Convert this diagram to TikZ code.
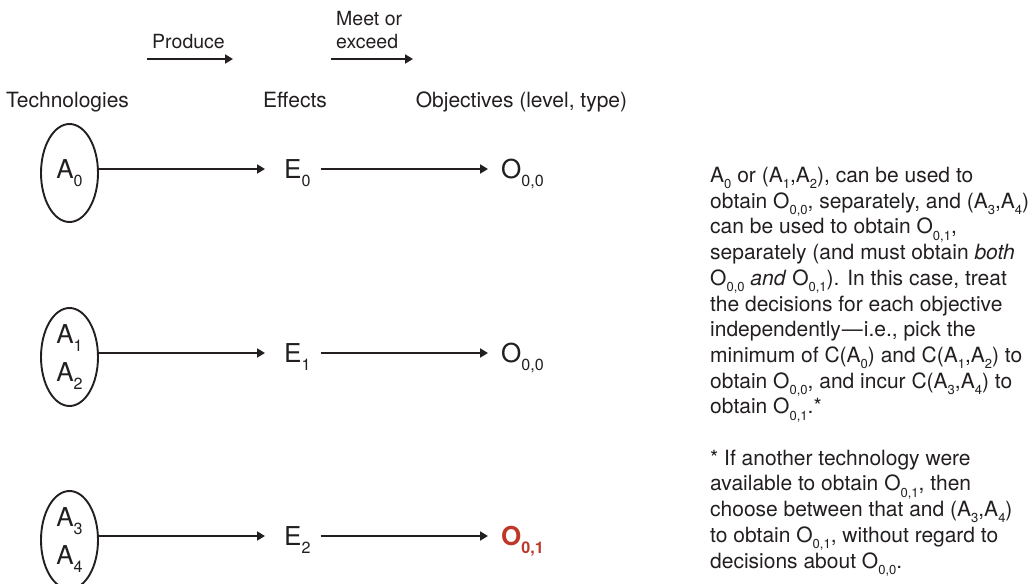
\documentclass[tikz,border=0pt]{standalone}
\usepackage{fontspec}
\setmainfont{TeX Gyre Heros}
\usepackage{graphicx}
\usetikzlibrary{arrows.meta,shapes.geometric}
\definecolor{inkGray}{RGB}{35,31,32}
\definecolor{brickRed}{RGB}{190,56,40}
% lowered, shrunk index as used in the figure
\newcommand{\lo}[1]{\raisebox{-0.3em}{\scalebox{0.62}{#1}}}

\begin{document}
\begin{tikzpicture}[x=1pt,y=1pt,
    every node/.style={text=inkGray},
    head/.style={font=\fontsize{21}{25}\selectfont,anchor=base,inner sep=0pt},
    verb/.style={font=\fontsize{19.5}{23}\selectfont,inner sep=0pt},
    tech/.style={ellipse,draw=inkGray,line width=1.9pt,minimum width=57pt,minimum height=98pt,inner sep=0pt,align=center,font=\fontsize{26}{38}\selectfont},
    lab/.style={anchor=west,inner sep=0pt,text height=18.6pt,text depth=0pt,font=\fontsize{26}{30}\selectfont},
    arr/.style={-{Triangle[length=8pt,width=9pt]},line width=1.9pt,draw=inkGray},
    note/.style={anchor=north west,inner sep=0pt,align=left,font=\fontsize{21}{25.7}\selectfont}
  ]
  \useasboundingbox (0,0) rectangle (1029,-584);

  % column headings
  \node[head] (hTech) at (67.5,-107) {Technologies};
  \node[head] (hEff) at (295,-107) {Effects};
  \node[head] (hObj) at (521.5,-107) {Objectives (level, type)};

  % verbs between the columns
  \node[verb,anchor=base] (vProd) at (188.5,-48) {Produce};
  \node[verb,anchor=north west,align=left] (vMeet) at (336,-11) {Meet or\\exceed};
  \coordinate (p1) at (147,-59);
  \coordinate (p2) at (233,-59);
  \coordinate (m1) at (331,-59);
  \coordinate (m2) at (413,-59);
  \draw[arr] (p1) -- (p2);
  \draw[arr] (m1) -- (m2);

  % technologies
  \node[tech] (a0) at (69.5,-173) {A\lo{0}};
  \node[tech] (a12) at (69.5,-357) {A\lo{1}\\A\lo{2}};
  \node[tech] (a34) at (69.5,-540) {A\lo{3}\\A\lo{4}};

  % effects
  \node[lab] (e0) at (284,-169) {E\lo{0}};
  \node[lab] (e1) at (284,-353) {E\lo{1}};
  \node[lab] (e2) at (284,-536) {E\lo{2}};

  % objectives
  \node[lab] (o00a) at (501,-169) {O\lo{0,0}};
  \node[lab] (o00b) at (501,-353) {O\lo{0,0}};
  \node[lab,text=brickRed] (o01) at (501,-536) {\bfseries O\lo{0,1}};

  \draw[arr,shorten >=19pt] (a0.east |- e0.west) -- (e0.west);
  \draw[arr,shorten >=19pt] (a12.east |- e1.west) -- (e1.west);
  \draw[arr,shorten >=19pt] (a34.east |- e2.west) -- (e2.west);
  \draw[arr,shorten <=10pt,shorten >=13pt] (e0.east) -- (o00a.west);
  \draw[arr,shorten <=10pt,shorten >=13pt] (e1.east) -- (o00b.west);
  \draw[arr,shorten <=10pt,shorten >=13pt] (e2.east) -- (o01.west);

  % explanation at the right
  \node[note] (expl) at (710,-167) {%
    A\lo{0} or (A\lo{1},A\lo{2}), can be used to\\
    obtain O\lo{0,0}, separately, and (A\lo{3},A\lo{4})\\
    can be used to obtain O\lo{0,1},\\
    separately (and must obtain \textit{both}\\
    O\lo{0,0} \textit{and} O\lo{0,1}). In this case, treat\\
    the decisions for each objective\\
    independently\kern1pt---\kern1pt i.e., pick the\\
    minimum of C(A\lo{0}) and C(A\lo{1},A\lo{2}) to\\
    obtain O\lo{0,0}, and incur C(A\lo{3},A\lo{4}) to\\
    obtain O\lo{0,1}.*\\[25.7pt]
    * If another technology were\\
    available to obtain O\lo{0,1}, then\\
    choose between that and (A\lo{3},A\lo{4})\\
    to obtain O\lo{0,1}, without regard to\\
    decisions about O\lo{0,0}.};
\end{tikzpicture}
\end{document}
